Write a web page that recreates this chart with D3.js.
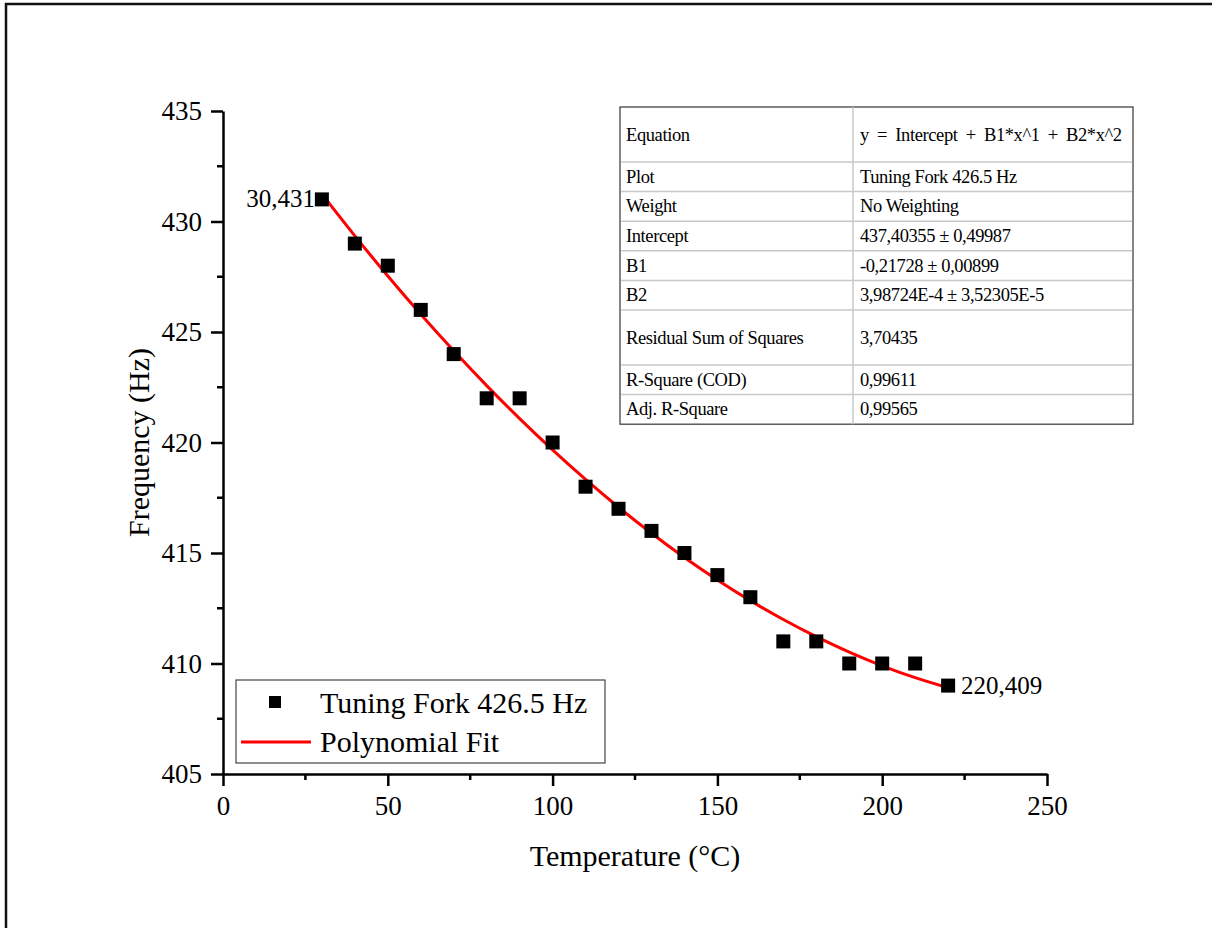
<!DOCTYPE html>
<html>
<head>
<meta charset="utf-8">
<script src="https://cdn.jsdelivr.net/npm/d3@7"></script>
<style>
  html, body { margin: 0; background: #fff; overflow: hidden; }
  svg { display: block; font-family: "Liberation Serif", "Times New Roman", serif; }
</style>
</head>
<body>
<svg id="chart" width="1212" height="928"></svg>
<script>
// data
const temps = [30, 40, 50, 60, 70, 80, 90, 100, 110, 120, 130, 140, 150, 160, 170, 180, 190, 200, 210, 220];
const freqs = [431, 429, 428, 426, 424, 422, 422, 420, 418, 417, 416, 415, 414, 413, 411, 411, 410, 410, 410, 409];
// polynomial fit, values at each temperature
const fitValues = [431.244, 429.350, 427.536, 425.802, 424.148, 422.573, 421.078, 419.663, 418.327, 417.071,
                   415.896, 414.799, 413.783, 412.846, 411.989, 411.212, 410.514, 409.896, 409.359, 408.900];
const xTicks = [0, 50, 100, 150, 200, 250];
const xMinor = [25, 75, 125, 175, 225];
const yTicks = [405, 410, 415, 420, 425, 430, 435];
const yMinor = [407.5, 412.5, 417.5, 422.5, 427.5, 432.5];
const tableLabels = ["Equation", "Plot", "Weight", "Intercept", "B1", "B2", "Residual Sum of Squares", "R-Square (COD)", "Adj. R-Square"];
const tableValues = ["y = Intercept + B1*x^1 + B2*x^2", "Tuning Fork 426.5 Hz", "No Weighting", "437,40355 \u00b1 0,49987",
                     "-0,21728 \u00b1 0,00899", "3,98724E-4 \u00b1 3,52305E-5", "3,70435", "0,99611", "0,99565"];
const legendLabels = ["Tuning Fork 426.5 Hz", "Polynomial Fit"];

const serif = "Liberation Serif, Times New Roman, serif";
const svg = d3.select("#chart");

// outer frame (runs off the right and bottom edges)
svg.append("rect")
  .attr("x", 6).attr("y", 4)
  .attr("width", 1400).attr("height", 1100)
  .attr("fill", "none").attr("stroke", "#111").attr("stroke-width", 2.5);

const xScale = d3.scaleLinear().domain([0, 250]).range([223, 1047]);
const yScale = d3.scaleLinear().domain([405, 435]).range([774, 111]);

// axes
const xAxis = svg.append("g")
  .attr("transform", "translate(0," + yScale(405) + ")")
  .call(d3.axisBottom(xScale).tickValues(xTicks).tickSize(12).tickPadding(10).tickSizeOuter(0));
const yAxis = svg.append("g")
  .attr("transform", "translate(" + xScale(0) + ",0)")
  .call(d3.axisLeft(yScale).tickValues(yTicks).tickSize(12).tickPadding(9).tickSizeOuter(0));

xAxis.selectAll(".minor")
  .data(xMinor)
  .join("line")
    .attr("class", "minor")
    .attr("x1", d => xScale(d)).attr("x2", d => xScale(d))
    .attr("y1", 0).attr("y2", 6);
yAxis.selectAll(".minor")
  .data(yMinor)
  .join("line")
    .attr("class", "minor")
    .attr("y1", d => yScale(d)).attr("y2", d => yScale(d))
    .attr("x1", 0).attr("x2", -6);

xAxis.attr("font-family", serif).attr("font-size", 27);
yAxis.attr("font-family", serif).attr("font-size", 27);
svg.selectAll(".domain, .tick line, .minor")
  .attr("stroke", "#000").attr("stroke-width", 2.5);
svg.selectAll(".tick text").attr("fill", "#000");

// axis titles
svg.append("text")
  .attr("x", (xScale(0) + xScale(250)) / 2).attr("y", 866)
  .attr("text-anchor", "middle")
  .style("font-size", "30px")
  .text("Temperature (\u00b0C)");
svg.append("text")
  .attr("transform", "translate(149," + (yScale(405) + yScale(435)) / 2 + ") rotate(-90)")
  .attr("text-anchor", "middle")
  .style("font-size", "30px")
  .text("Frequency (Hz)");

// fit line
const line = d3.line()
  .x((d, i) => xScale(temps[i]))
  .y(d => yScale(d))
  .curve(d3.curveNatural);
svg.append("path")
  .datum(fitValues)
  .attr("d", line)
  .attr("fill", "none")
  .attr("stroke", "#ff0000")
  .attr("stroke-width", 3);

// points
const sq = 14;
svg.selectAll("rect.pt")
  .data(freqs)
  .join("rect")
    .attr("class", "pt")
    .attr("x", (d, i) => xScale(temps[i]) - sq / 2)
    .attr("y", d => yScale(d) - sq / 2)
    .attr("width", sq).attr("height", sq)
    .attr("fill", "#000");

// end point labels
const last = temps.length - 1;
svg.append("text")
  .attr("x", xScale(temps[0]) - sq / 2)
  .attr("y", yScale(freqs[0]) + 8)
  .attr("text-anchor", "end")
  .style("font-size", "25px")
  .text(temps[0] + "," + freqs[0]);
svg.append("text")
  .attr("x", xScale(temps[last]) + sq / 2 + 6)
  .attr("y", yScale(freqs[last]) + 8)
  .style("font-size", "25px")
  .text(temps[last] + "," + freqs[last]);

// legend
const legend = svg.append("g");
legend.append("rect")
  .attr("x", 236).attr("y", 680)
  .attr("width", 369).attr("height", 83)
  .attr("fill", "#fff").attr("stroke", "#444").attr("stroke-width", 1.2);
legend.append("rect")
  .attr("x", 275 - 6).attr("y", 702 - 6)
  .attr("width", 12).attr("height", 12)
  .attr("fill", "#000");
legend.append("line")
  .attr("x1", 241).attr("x2", 311)
  .attr("y1", 742).attr("y2", 742)
  .attr("stroke", "#ff0000").attr("stroke-width", 3);
legend.selectAll("text")
  .data(legendLabels)
  .join("text")
    .attr("x", 320)
    .attr("y", (d, i) => 713 + i * 39)
    .style("font-size", "30px")
    .text(d => d);

// fit results table
const tx = 620, tw = 513, colSplit = 853;
const rowH = tableLabels.map(d => (d === "Equation" || d.startsWith("Residual")) ? 55 : 29.6);
const rowY = [];
rowH.reduce((acc, h, i) => { rowY[i] = acc; return acc + h; }, 107);
const tableBottom = rowY[rowY.length - 1] + rowH[rowH.length - 1];
const table = svg.append("g");
table.append("rect")
  .attr("x", tx).attr("y", 107)
  .attr("width", tw).attr("height", tableBottom - 107)
  .attr("fill", "#fff").attr("stroke", "#444").attr("stroke-width", 1.3);
table.selectAll("line.row")
  .data(rowY.slice(1))
  .join("line")
    .attr("class", "row")
    .attr("x1", tx + 1).attr("x2", tx + tw - 1)
    .attr("y1", d => d).attr("y2", d => d)
    .attr("stroke", "#c8c8c8").attr("stroke-width", 1.5);
table.append("line")
  .attr("x1", colSplit).attr("x2", colSplit)
  .attr("y1", 107).attr("y2", tableBottom)
  .attr("stroke", "#c8c8c8").attr("stroke-width", 1.5);
table.selectAll("text.lab")
  .data(tableLabels)
  .join("text")
    .attr("class", "lab")
    .attr("x", tx + 6)
    .attr("y", (d, i) => rowY[i] + rowH[i] / 2 + 6)
    .style("font-size", "18.5px")
    .style("letter-spacing", "-0.4px")
    .text(d => d);
table.selectAll("text.val")
  .data(tableValues)
  .join("text")
    .attr("class", "val")
    .attr("x", colSplit + 7)
    .attr("y", (d, i) => rowY[i] + rowH[i] / 2 + 6)
    .style("font-size", "18.5px")
    .style("letter-spacing", "-0.4px")
    .style("word-spacing", (d, i) => i === 0 ? "4px" : "0px")
    .text(d => d);
</script>
</body>
</html>
